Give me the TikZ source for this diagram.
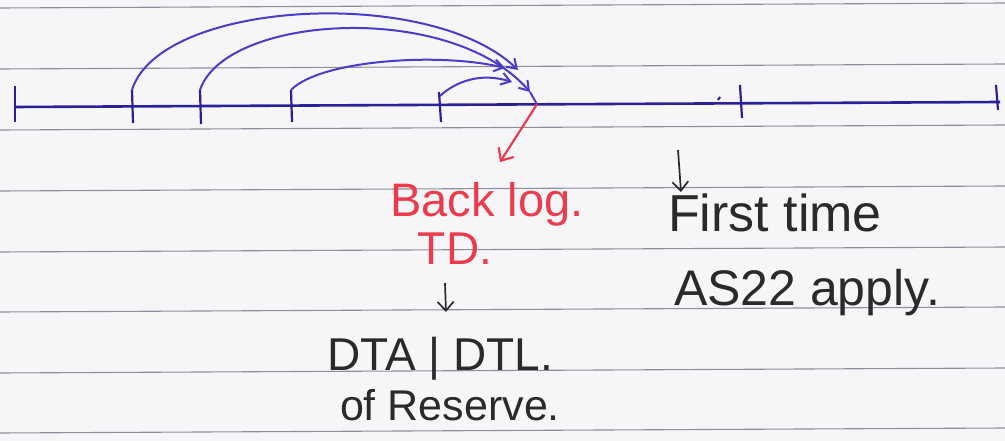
\documentclass[tikz,border=0pt]{standalone}
\usepackage{fontspec}
\setmainfont{Liberation Sans}
\usetikzlibrary{arrows.meta}
\definecolor{paper}{HTML}{F6F6F9}
\definecolor{rulegray}{HTML}{8E8E9A}
\definecolor{axisblue}{HTML}{2B1F9A}
\definecolor{arcblue}{HTML}{4A3CC8}
\definecolor{pinkred}{HTML}{EC3B4C}
\definecolor{ink}{HTML}{2A2A2A}
\begin{document}
\begin{tikzpicture}[x=1pt,y=-1pt,
  ruleline/.style={rulegray, line width=1.1pt},
  axisline/.style={axisblue, line width=2.6pt},
  tickmark/.style={axisblue, line width=2.2pt},
  jump/.style={arcblue, line width=2pt, -{Straight Barb[length=9pt,width=12pt]}},
  redarrow/.style={pinkred, line width=2.2pt, -{Straight Barb[length=10pt,width=18pt]}},
  inkarrow/.style={ink, line width=1.7pt, -{Straight Barb[length=9pt,width=16pt]}},
  hand/.style={inner sep=0pt, anchor=base}]
\fill[paper] (0,0) rectangle (1005,441);
\useasboundingbox (0,0) rectangle (1005,441);
% ruled paper
\foreach \y in {8,69,130,191,252,312,373,433}
  \draw[ruleline] (0,\y) -- (1005,\y-5);
% time line
\coordinate (a0) at (14,107);
\coordinate (a1) at (1000,102);
\draw[axisline] (a0) -- (a1);
\coordinate (t6) at (537,104.3);
\draw[tickmark] (15,86) -- (15,122);
\draw[tickmark] (132,90) -- (133,123);
\draw[tickmark] (200,90) -- (201,124);
\draw[tickmark] (291,90) -- (292,122);
\draw[tickmark] (439,92) -- (441,122);
\draw[tickmark] (740,85) -- (742,118);
\draw[tickmark] (996,85) -- (998,110);
\draw[tickmark] (718,100) -- (720,97);
% jumps
\coordinate (j1) at (518,70);
\coordinate (j2) at (530,92);
\coordinate (j3) at (505,68);
\coordinate (j4) at (512,82);
\draw[jump] (132,90) .. controls (160,0) and (430,-15) .. (j1);
\draw[jump] (200,90) .. controls (225,15) and (450,0) .. (j2);
\draw[jump] (291,90) .. controls (320,60) and (440,52) .. (j3);
\draw[jump] (440,96) .. controls (455,82) and (480,72) .. (j4);
\draw[arcblue, line width=2pt] (j2) -- (t6);
% labels
\node[hand, text=pinkred, font=\fontsize{47}{50}\selectfont] (backlog) at (487,217) {Back log.};
\node[hand, text=pinkred, font=\fontsize{46}{50}\selectfont, text height=0.72em, text depth=0pt] (td) at (455,264) {TD.};
\node[hand, text=ink, font=\fontsize{46}{50}\selectfont] (dta) at (440,370) {DTA | DTL.};
\node[hand, text=ink, font=\fontsize{43}{50}\selectfont] (reserve) at (450,420) {of Reserve.};
\node[hand, text=ink, font=\fontsize{52}{50}\selectfont] (first) at (775,232) {First time};
\node[hand, text=ink, font=\fontsize{50}{50}\selectfont] (as22) at (807,305) {AS22 apply.};
% arrows
\coordinate (redtip) at (500,162);
\draw[redarrow] (t6) -- (redtip);
\coordinate (tdtail) at (445,283);
\coordinate (tdtip) at (446,312);
\draw[inkarrow] (tdtail) -- (tdtip);
\coordinate (fttail) at (678,150);
\coordinate (fttip) at (681,192);
\draw[inkarrow] (fttail) -- (fttip);
\end{tikzpicture}
\end{document}
